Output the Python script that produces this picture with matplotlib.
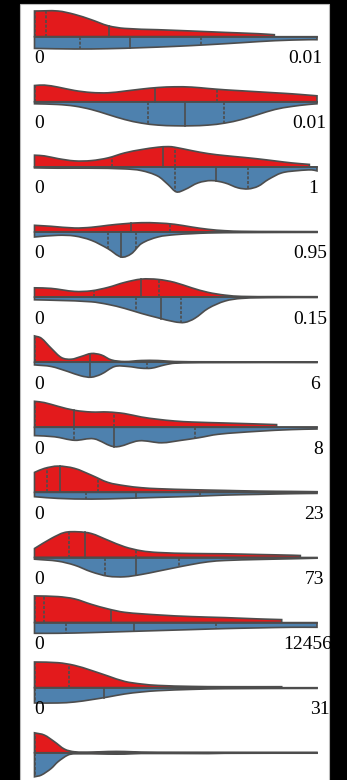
import numpy as np
import matplotlib
matplotlib.use("Agg")
import matplotlib.pyplot as plt
from matplotlib.path import Path
from matplotlib.patches import PathPatch, Rectangle

RED = "#e31a1c"
BLUE = "#4e81ae"
EDGE = "#4d4d4d"

# labels under each row (the last row is cut off at the bottom)
min_labels = ["0"] * 11 + [None]
max_labels = ["0.01", "0.01", "1", "0.95", "0.15", "6", "8", "23", "73", "12456", "31", None]

# half-violin outlines:
# position = fraction of the row's range, width = half-width in pixels
red_pos = [
    [0, 0.083, 0.142, 0.201, 0.26, 0.319, 0.437, 0.556, 0.674, 0.792, 0.849],
    [0, 0.035, 0.083, 0.142, 0.201, 0.26, 0.319, 0.378, 0.437, 0.496, 0.556, 0.615, 0.674, 0.733, 0.792, 0.851, 0.91, 0.969, 1.0],
    [0, 0.035, 0.083, 0.142, 0.201, 0.26, 0.319, 0.378, 0.437, 0.473, 0.496, 0.556, 0.615, 0.674, 0.733, 0.792, 0.851, 0.91, 0.973],
    [0, 0.059, 0.142, 0.201, 0.26, 0.319, 0.378, 0.437, 0.496, 0.556, 0.615, 0.674, 0.733, 0.851, 1.0],
    [0, 0.059, 0.142, 0.201, 0.26, 0.319, 0.378, 0.437, 0.496, 0.556, 0.615, 0.674, 0.733, 0.851, 1.0],
    [0, 0.024, 0.059, 0.095, 0.13, 0.165, 0.201, 0.236, 0.272, 0.319, 0.378, 0.437, 0.496, 0.615, 1.0],
    [0, 0.035, 0.083, 0.142, 0.201, 0.26, 0.319, 0.378, 0.437, 0.496, 0.556, 0.674, 0.792, 0.857],
    [0, 0.035, 0.083, 0.142, 0.201, 0.26, 0.319, 0.378, 0.437, 0.556, 0.674, 0.792, 0.91, 1.0],
    [0, 0.059, 0.106, 0.154, 0.201, 0.26, 0.319, 0.378, 0.437, 0.556, 0.674, 0.792, 0.91, 0.941],
    [0, 0.083, 0.142, 0.201, 0.26, 0.319, 0.437, 0.556, 0.674, 0.792, 0.875],
    [0, 0.083, 0.142, 0.201, 0.26, 0.319, 0.378, 0.437, 0.556, 0.674, 0.875],
    [0, 0.035, 0.071, 0.106, 0.142, 0.201, 0.26, 0.319, 0.378, 0.496, 1.0],
]
red_w = [
    [25.7, 25.7, 22.3, 17, 11, 8.3, 7, 5.7, 4.3, 3, 2],
    [16.3, 16.7, 14.7, 11.3, 9.3, 9, 10.7, 12.7, 14.3, 15, 14.7, 13.3, 12, 11, 10, 9, 8, 6.7, 6],
    [11.7, 11, 8.3, 6, 6.3, 9, 14, 17.3, 19.7, 20.3, 19.7, 16.3, 13.3, 11.3, 9.7, 8, 6, 4, 2.5],
    [6.7, 5.7, 4, 4.7, 6.7, 8.3, 9.3, 9, 7.7, 5, 2.7, 1.3, 0.7, 0.5, 0.4],
    [9.3, 8.7, 5.7, 6.3, 9.7, 14.7, 18, 17.7, 14.7, 9.3, 4.7, 2, 0.7, 0.5, 0.4],
    [26.3, 24, 14, 4.7, 3, 5.7, 8.7, 7.3, 2.3, 0.7, 1.7, 1.7, 0.7, 0.4, 0.3],
    [26, 24.7, 21, 17, 15.3, 15.3, 13.7, 10.3, 8, 6.3, 5.3, 4.3, 3.3, 2.7],
    [20, 24, 26.3, 24, 17.3, 10, 6.7, 4.7, 3.7, 2.7, 2, 1.3, 1, 0.7],
    [9, 19, 25, 25.7, 24, 17.3, 10.7, 6.7, 5, 4, 3.7, 3, 2.3, 2],
    [26.7, 26, 23.7, 18.3, 13.7, 10.3, 7.7, 6, 5, 3.7, 3],
    [25.7, 25, 22.3, 17.3, 11.7, 6.3, 3.7, 2.3, 1.3, 1, 1],
    [20, 17.7, 11, 3.7, 1, 0.7, 1.3, 1.3, 0.7, 0.5, 0.4],
]
blue_pos = [
    [0, 0.142, 0.26, 0.378, 0.496, 0.615, 0.733, 0.851, 0.969, 1.0],
    [0, 0.083, 0.142, 0.201, 0.26, 0.319, 0.378, 0.437, 0.496, 0.556, 0.615, 0.674, 0.733, 0.792, 0.851, 0.91, 0.969, 1.0],
    [0, 0.083, 0.201, 0.319, 0.378, 0.437, 0.473, 0.502, 0.532, 0.579, 0.626, 0.674, 0.721, 0.757, 0.792, 0.827, 0.875, 0.934, 0.981, 1.0],
    [0, 0.083, 0.142, 0.201, 0.26, 0.307, 0.343, 0.378, 0.437, 0.496, 0.556, 0.615, 0.733, 1.0],
    [0, 0.083, 0.201, 0.26, 0.319, 0.378, 0.437, 0.496, 0.532, 0.567, 0.615, 0.674, 0.733, 0.851, 1.0],
    [0, 0.059, 0.118, 0.165, 0.201, 0.236, 0.284, 0.331, 0.378, 0.414, 0.461, 0.496, 0.615, 1.0],
    [0, 0.071, 0.142, 0.21, 0.285, 0.37, 0.45, 0.52, 0.58, 0.65, 0.79, 0.91, 1.0],
    [0, 0.083, 0.201, 0.319, 0.437, 0.556, 0.674, 0.792, 0.91, 1.0],
    [0, 0.083, 0.142, 0.201, 0.26, 0.319, 0.378, 0.437, 0.496, 0.556, 0.615, 0.674, 0.792, 0.91, 1.0],
    [0, 0.083, 0.201, 0.319, 0.437, 0.556, 0.674, 0.792, 0.91, 1.0],
    [0, 0.083, 0.142, 0.201, 0.26, 0.319, 0.378, 0.437, 0.556, 0.674, 1.0],
    [0, 0.024, 0.059, 0.083, 0.118, 0.142, 0.26, 0.319, 0.378, 0.615, 0.674, 1.0],
]
blue_w = [
    [11.7, 12.3, 12, 11, 9.7, 8, 6, 4, 3, 3],
    [2, 2.7, 4.3, 7.7, 12.7, 17.7, 21.3, 23.3, 24, 24, 23.3, 21.3, 17.7, 12.7, 7.7, 4.7, 2.7, 2],
    [1, 1.3, 1.3, 2, 3.7, 9.3, 17.7, 25, 22.7, 16, 13.7, 16, 21, 22, 19.3, 12.7, 6, 3.7, 3, 4],
    [5, 3.3, 4, 8.3, 16.7, 25, 21.7, 11.7, 5, 2.7, 1.7, 1, 0.6, 0.4],
    [2.7, 3.3, 4.7, 7.3, 11.3, 16.3, 20.7, 24.7, 25.3, 21.3, 11.3, 4, 1.3, 0.5, 0.4],
    [2.7, 4.3, 9.3, 13.7, 15, 12, 4.3, 4.3, 6, 6, 2.7, 1, 0.4, 0.3],
    [8.3, 9.5, 13, 11.5, 19.5, 13.5, 15.5, 13, 10.5, 7, 4, 2.3, 1.7],
    [4.3, 6, 6.7, 6, 5, 4, 2.7, 2, 1.3, 1],
    [1.7, 3.7, 7.7, 14.3, 18.7, 19.3, 17, 13.7, 10.3, 7, 4.3, 3, 2, 1.3, 0.7],
    [10.7, 10.7, 10, 9, 8, 7, 6, 5.3, 4.7, 4.7],
    [15.3, 15.3, 14.3, 12, 9.3, 6.3, 4.3, 3, 1.7, 1, 0.7],
    [24, 22.3, 15.7, 9, 2.3, 1, 1.3, 1.3, 0.7, 0.8, 0.5, 0.4],
]

# inner lines: quartiles (dashed) and medians (solid)
red_quart = [[0, 0.041], [0, 0.647], [0.274, 0.496], [0.479], [0.209, 0.441], [0],
             [0, 0.281], [0.044, 0.225], [0.122, 0.358], [0, 0.035], [0, 0.122], [0]]
red_med = [0.264, 0.426, 0.455, 0.34, 0.376, 0.197, 0.139, 0.089, 0.177, 0.27, None, None]
blue_quart = [[0.16, 0.591], [0.402, 0.670], [0.496, 0.754], [0.26, 0.36], [0.358, 0.518], [0.398],
              [0.139, 0.567], [0.181, 0.585], [0.248, 0.512], [0.112, 0.642], [0], [0]]
blue_med = [0.337, 0.534, 0.644, 0.307, 0.449, 0.197, 0.281, 0.358, 0.358, 0.351, 0.246, None]

# where the right-hand label starts (fraction of the row width)
label_pos = [0.897, 0.912, 0.968, 0.915, 0.915, 0.975, 0.986, 0.954, 0.957, 0.880, 0.975, None]


def slopes(x, y):
    x = np.asarray(x, float)
    y = np.asarray(y, float)
    m = np.empty_like(y)
    m[1:-1] = (y[2:] - y[:-2]) / (x[2:] - x[:-2])
    m[0] = (y[1] - y[0]) / (x[1] - x[0])
    m[-1] = (y[-1] - y[-2]) / (x[-1] - x[-2])
    return x, y, m


def half_path(xs, ws, sign):
    x, y, m = slopes(xs, ws)
    y = y * sign
    m = m * sign
    verts = [(0, 0), (x[0], y[0])]
    codes = [Path.MOVETO, Path.LINETO]
    for i in range(len(x) - 1):
        h = x[i + 1] - x[i]
        verts += [(x[i] + h / 3, y[i] + m[i] * h / 3),
                  (x[i + 1] - h / 3, y[i + 1] - m[i + 1] * h / 3),
                  (x[i + 1], y[i + 1])]
        codes += [Path.CURVE4] * 3
    verts += [(x[-1], 0), (0, 0)]
    codes += [Path.LINETO, Path.CLOSEPOLY]
    return Path(verts, codes)


def width_at(xs, ws, q):
    x, y, m = slopes(xs, ws)
    i = int(np.clip(np.searchsorted(x, q) - 1, 0, len(x) - 2))
    h = x[i + 1] - x[i]
    t = (q - x[i]) / h
    return ((2 * t**3 - 3 * t**2 + 1) * y[i] + (t**3 - 2 * t**2 + t) * h * m[i]
            + (-2 * t**3 + 3 * t**2) * y[i + 1] + (t**3 - t**2) * h * m[i + 1])


W, H = 347, 780
fig = plt.figure(figsize=(W / 100, H / 100), dpi=100, facecolor="black")
panel = Rectangle((20 / W, -0.01), 309 / W, (H - 4) / H + 0.01,
                  transform=fig.transFigure, facecolor="white",
                  edgecolor="#bbbbbb", lw=0.8, zorder=-10)
fig.patches.append(panel)

top, step = 36.7, 65.1
for i in range(12):
    cy = top + i * step
    ax = fig.add_axes([34.5 / W, 1 - (cy + 30) / H, 282.5 / W, 60 / H], zorder=1)
    ax.set_xlim(0, 1)
    ax.set_ylim(-30, 30)
    ax.axis("off")

    for xs, ws, sign, col in [(red_pos[i], red_w[i], 1, RED), (blue_pos[i], blue_w[i], -1, BLUE)]:
        ax.add_patch(PathPatch(half_path(xs, ws, sign), facecolor=col,
                               edgecolor=EDGE, lw=1.2, clip_on=False))
    ax.plot([0, 1], [0, 0], color=EDGE, lw=1.2, clip_on=False)

    for xs, ws, sign, quart, med in [(red_pos[i], red_w[i], 1, red_quart[i], red_med[i]),
                                     (blue_pos[i], blue_w[i], -1, blue_quart[i], blue_med[i])]:
        for q in quart:
            ax.plot([q, q], [0, sign * width_at(xs, ws, q)], color=EDGE, lw=1.2,
                    ls=(0, (1.8, 1.0)), clip_on=False)
        if med is not None:
            ax.plot([med, med], [0, sign * width_at(xs, ws, med)], color=EDGE, lw=1.2,
                    clip_on=False)

    if min_labels[i] is not None:
        ax.text(0, -26.5, min_labels[i], ha="left", va="baseline",
                family="Liberation Serif", fontsize=14, color="black", clip_on=False)
    if max_labels[i] is not None:
        ax.text(label_pos[i], -26.5, max_labels[i], ha="left", va="baseline",
                family="Liberation Serif", fontsize=14, color="black", clip_on=False)

fig.savefig("out.png", dpi=100, facecolor=fig.get_facecolor())
